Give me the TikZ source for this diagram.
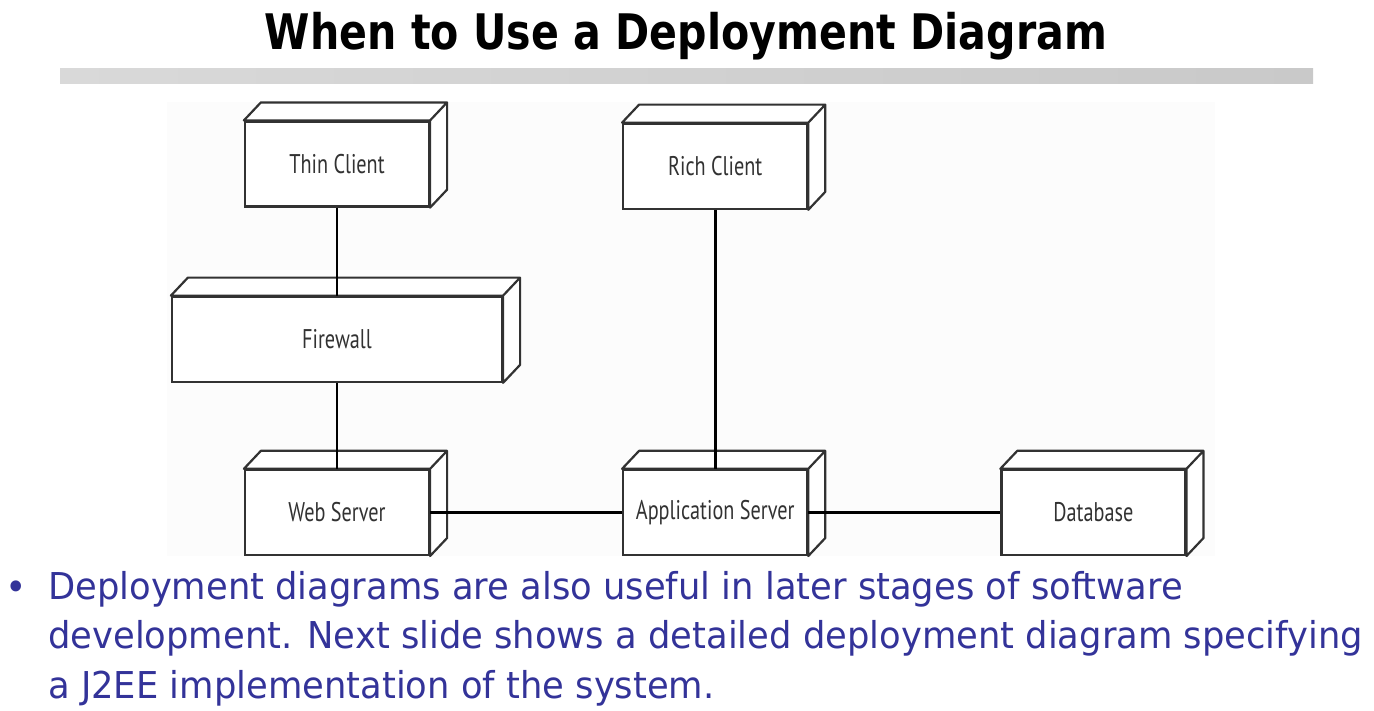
\documentclass[tikz,border=0pt]{standalone}
\usepackage{fontspec}
\usepackage{tikz}
\usetikzlibrary{positioning}
\newfontfamily\titlefont[FakeStretch=0.84]{DejaVu Sans}
\newfontfamily\bodyfont[FakeStretch=0.955]{DejaVu Sans}
\newfontfamily\nodefont[FakeStretch=0.75]{PT Sans}
\definecolor{slideblue}{RGB}{51,51,153}
\definecolor{boxgray}{RGB}{50,50,50}
\definecolor{barlight}{RGB}{217,217,217}
\definecolor{bardark}{RGB}{201,201,201}
\tikzstyle{devnode} = [ rectangle, minimum width = 184pt, minimum height = 85pt, %
                        draw = boxgray, line width = 2.2pt, fill = white, text = boxgray, %
                        font = \nodefont\fontsize{27}{27}\selectfont ]
\tikzstyle{depth} = [draw = boxgray, line width = 2.2pt, fill = white, line join = round]
\tikzstyle{link} = [line width = 2.8pt, black]

\begin{document}
\begin{tikzpicture}[x = 1pt, y = -1pt]
      \useasboundingbox (0,0) rectangle (1374,710);
      % Title and bar
      \node (title) [anchor = base, font = \titlefont\bfseries\fontsize{49}{49}\selectfont] %
        at (686,49) {When to Use a Deployment Diagram};
      \shade [left color = barlight, right color = bardark] (60,68) rectangle (1313,83);
      \fill [black!1] (167,102) rectangle (1215,556);
      % Nodes
      \node (thin) [devnode] at (337,164) {Thin Client};
      \node (firewall) [devnode, minimum width = 330pt, below = 88pt of thin] {Firewall};
      \node (web) [devnode, below = 86pt of firewall] {Web Server};
      \node (app) [devnode, right = 192pt of web] {Application Server};
      \node (db) [devnode, right = 192pt of app] {Database};
      \node (rich) [devnode, above = 259pt of app] {Rich Client};
      % Top and side faces
      \foreach \n in {thin,rich,firewall,web,app,db}
        \filldraw [depth] (\n.north west) -- ++(17,-18) -| ([shift = {(17,-18)}]\n.south east) %
          -- (\n.south east) -- (\n.north east) -- cycle (\n.north east) -- ++(17,-18);
      % Links
      \draw [link] (thin) -- (firewall);
      \draw [link] (firewall) -- (web);
      \draw [link] (rich) -- (app);
      \draw [link] (web) -- (app);
      \draw [link] (app) -- (db);
      % Bullet text
      \node (dot) [text = slideblue, font = \bodyfont\fontsize{38}{38}\selectfont] at (16,591) {•};
      \node (bullet) [anchor = base west, align = left, inner sep = 0pt, text = slideblue, %
        font = \bodyfont\fontsize{37}{49.5}\selectfont] at (48,698) %
        {Deployment diagrams are also useful in later stages of software\\
         development. Next slide shows a detailed deployment diagram specifying\\
         a J2EE implementation of the system.};
\end{tikzpicture}
\end{document}
